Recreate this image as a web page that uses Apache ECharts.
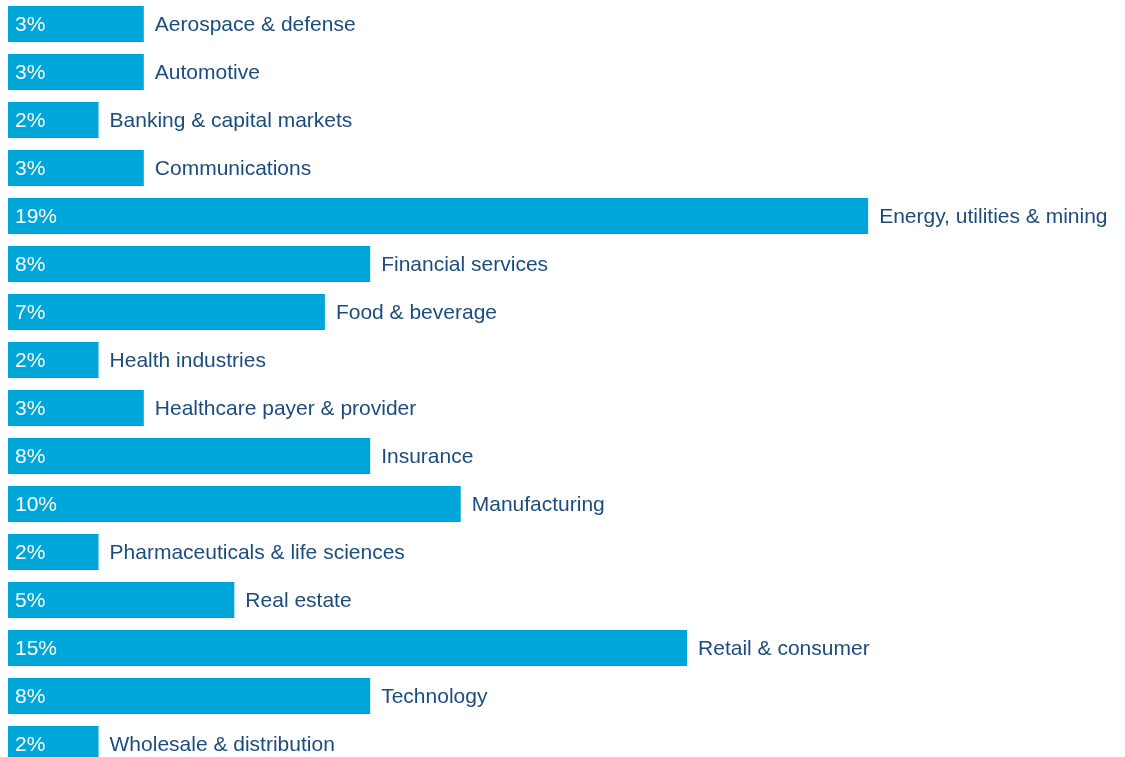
<!DOCTYPE html>
<html>
<head>
<meta charset="utf-8">
<script src="https://cdn.jsdelivr.net/npm/echarts@6/dist/echarts.min.js"></script>
<style>
  html, body { margin: 0; padding: 0; background: #ffffff; overflow: hidden; }
  /* 16 rows of 48px; the last row runs slightly past the window's bottom edge */
  #chart { width: 1125px; height: 768px; }
</style>
</head>
<body>
<div id="chart"></div>
<script>
// Share of respondents by industry (%)
const categories = [
  'Aerospace & defense',
  'Automotive',
  'Banking & capital markets',
  'Communications',
  'Energy, utilities & mining',
  'Financial services',
  'Food & beverage',
  'Health industries',
  'Healthcare payer & provider',
  'Insurance',
  'Manufacturing',
  'Pharmaceuticals & life sciences',
  'Real estate',
  'Retail & consumer',
  'Technology',
  'Wholesale & distribution'
];
const shares = [3, 3, 2, 3, 19, 8, 7, 2, 3, 8, 10, 2, 5, 15, 8, 2];

const BAR_COLOR = '#00a6d9';
const TEXT_COLOR = '#1c4c7e';
const FONT = '"Liberation Sans", Arial, Helvetica, sans-serif';

const chart = echarts.init(document.getElementById('chart'), null, { renderer: 'canvas' });

chart.setOption({
  animation: false,
  grid: { left: 8, top: 0, width: 1086.5, bottom: 0, containLabel: false },
  xAxis: {
    type: 'value',
    min: 0,
    max: 24,
    show: false
  },
  yAxis: {
    type: 'category',
    data: categories,
    inverse: true,
    show: false
  },
  series: [
    {
      // value inside the bar
      type: 'bar',
      data: shares,
      barWidth: 36,
      barGap: '-100%',
      itemStyle: { color: BAR_COLOR },
      label: {
        show: true,
        position: 'insideLeft',
        distance: 7,
        offset: [0, 1.5],
        formatter: p => p.value + '%',
        color: '#ffffff',
        fontFamily: FONT,
        fontSize: 21
      },
      z: 2
    },
    {
      // category name to the right of the bar
      type: 'bar',
      data: shares,
      barWidth: 36,
      barGap: '-100%',
      itemStyle: { color: 'transparent' },
      label: {
        show: true,
        position: 'right',
        distance: 11,
        offset: [0, 1.5],
        formatter: p => categories[p.dataIndex],
        color: TEXT_COLOR,
        fontFamily: FONT,
        fontSize: 21
      },
      z: 1
    }
  ]
});
</script>
</body>
</html>
